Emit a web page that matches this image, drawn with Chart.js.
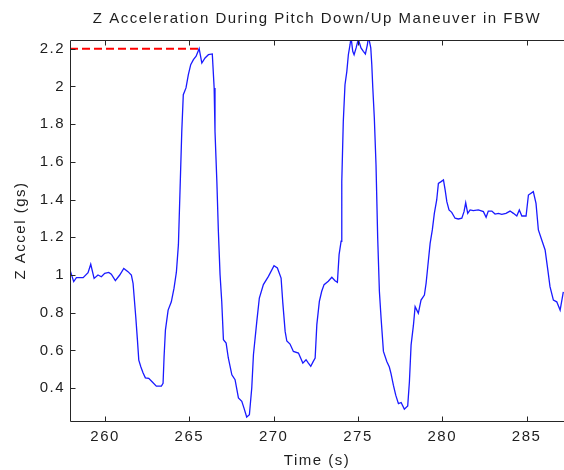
<!DOCTYPE html>
<html>
<head>
<meta charset="utf-8">
<script src="https://cdn.jsdelivr.net/npm/chart.js@4.4.1/dist/chart.umd.min.js"></script>
<style>
  html, body { margin: 0; padding: 0; background: #fff; }
  canvas { display: block; }
</style>
</head>
<body>
<canvas id="chart" width="564" height="470"></canvas>
<script>
// flight log: vertical acceleration vs time
const timeS = [
  257.92, 258.14, 258.30, 258.70, 258.99, 259.15, 259.35, 259.58, 259.78, 259.98,
  260.22, 260.37, 260.61, 260.87, 261.11, 261.36, 261.56, 261.66, 261.82, 261.92,
  262.00, 262.12, 262.25, 262.39, 262.59, 262.79, 263.04, 263.34, 263.44, 263.50,
  263.58, 263.74, 263.93, 264.09, 264.23, 264.35, 264.45, 264.55, 264.64, 264.80,
  264.94, 265.08, 265.24, 265.40, 265.58, 265.74, 265.93, 266.13, 266.36, 266.47,
  266.52, 266.63, 266.72, 266.82, 266.92, 267.02, 267.18, 267.31, 267.52, 267.71,
  267.91, 268.11, 268.24, 268.40, 268.56, 268.70, 268.80, 269.00, 269.15, 269.39,
  269.69, 270.02, 270.22, 270.44, 270.54, 270.68, 270.78, 270.97, 271.17, 271.47,
  271.73, 271.92, 272.06, 272.20, 272.35, 272.46, 272.56, 272.71, 272.85, 272.99,
  273.24, 273.45, 273.64, 273.78, 273.88, 274.00, 274.04, 274.13, 274.23, 274.34,
  274.43, 274.53, 274.59, 274.69, 274.77, 274.89, 275.02, 275.18, 275.32, 275.44,
  275.56, 275.62, 275.76, 275.82, 275.88, 275.97, 276.07, 276.17, 276.27, 276.37,
  276.51, 276.71, 276.86, 276.96, 277.10, 277.24, 277.40, 277.56, 277.75, 277.95,
  278.05, 278.15, 278.29, 278.39, 278.49, 278.58, 278.74, 278.94, 279.04, 279.14,
  279.28, 279.41, 279.53, 279.67, 279.77, 279.93, 280.07, 280.17, 280.27, 280.40,
  280.56, 280.76, 280.95, 281.16, 281.29, 281.39, 281.51, 281.65, 281.84, 282.14,
  282.44, 282.60, 282.73, 282.94, 283.13, 283.33, 283.53, 283.78, 284.02, 284.22,
  284.42, 284.57, 284.72, 284.97, 285.11, 285.40, 285.56, 285.70, 285.90, 286.10,
  286.26, 286.39, 286.59, 286.79, 286.99, 287.18
];
const zAccel = [
  1.027, 0.965, 0.986, 0.986, 1.012, 1.057, 0.982, 1.000, 0.991, 1.009,
  1.014, 1.004, 0.970, 1.000, 1.035, 1.018, 1.000, 0.956, 0.779, 0.655,
  0.549, 0.514, 0.482, 0.455, 0.452, 0.434, 0.411, 0.411, 0.426, 0.567,
  0.708, 0.814, 0.858, 0.930, 1.015, 1.161, 1.461, 1.762, 1.956, 1.992,
  2.062, 2.115, 2.142, 2.160, 2.200, 2.124, 2.151, 2.168, 2.172, 1.992,
  1.762, 1.497, 1.232, 1.002, 0.860, 0.657, 0.639, 0.560, 0.471, 0.445,
  0.348, 0.330, 0.294, 0.247, 0.259, 0.401, 0.577, 0.754, 0.878, 0.949,
  0.993, 1.049, 1.037, 0.984, 0.855, 0.701, 0.650, 0.634, 0.595, 0.586,
  0.533, 0.551, 0.533, 0.516, 0.542, 0.560, 0.737, 0.860, 0.914, 0.949,
  0.967, 0.988, 0.970, 0.961, 1.108, 1.179, 1.497, 1.815, 2.009, 2.080,
  2.168, 2.221, 2.260, 2.186, 2.168, 2.204, 2.250, 2.204, 2.186, 2.172,
  2.221, 2.265, 2.204, 2.115, 1.992, 1.832, 1.585, 1.196, 0.914, 0.772,
  0.595, 0.542, 0.512, 0.477, 0.416, 0.363, 0.318, 0.324, 0.289, 0.306,
  0.433, 0.628, 0.734, 0.832, 0.814, 0.797, 0.867, 0.894, 0.956, 1.044,
  1.168, 1.239, 1.327, 1.398, 1.486, 1.495, 1.504, 1.451, 1.389, 1.345,
  1.332, 1.301, 1.297, 1.301, 1.336, 1.383, 1.327, 1.345, 1.341, 1.345,
  1.336, 1.306, 1.339, 1.339, 1.323, 1.327, 1.322, 1.327, 1.339, 1.327,
  1.313, 1.345, 1.313, 1.313, 1.424, 1.442, 1.380, 1.239, 1.186, 1.133,
  1.027, 0.938, 0.867, 0.858, 0.814, 0.911
];

// first pull-up peak, marked with a dashed line back to the axis
const peakTime = 265.58;
const peakG = 2.2;

const xRange = [257.92, 287.22];
const yRange = [0.226, 2.246];
const xTickValues = [260, 265, 270, 275, 280, 285];
const yTickValues = [0.4, 0.6, 0.8, 1, 1.2, 1.4, 1.6, 1.8, 2, 2.2];

const TEXT = "#1e1e1e";
const AXIS = "#262626";

Chart.defaults.font.family = '"Liberation Sans", Arial, sans-serif';
Chart.defaults.font.size = 15;
Chart.defaults.color = TEXT;

// matlab-ish spacing between glyphs
const spacing = {
  id: "spacing",
  beforeDraw(chart) {
    chart.ctx.letterSpacing = "1.5px";
  },
};

// axes box (left/top/bottom) with inward ticks
const frame = {
  id: "frame",
  afterDatasetsDraw(chart) {
    const { ctx, chartArea: a, scales: { x, y } } = chart;
    const L = a.left + 0.5, T = a.top + 0.5, B = a.bottom + 0.5;
    ctx.save();
    ctx.strokeStyle = AXIS;
    ctx.lineWidth = 1;
    ctx.beginPath();
    ctx.moveTo(a.right + 2, T);
    ctx.lineTo(L, T);
    ctx.lineTo(L, B);
    ctx.lineTo(a.right + 2, B);
    for (const v of xTickValues) {
      const px = Math.round(x.getPixelForValue(v)) + 0.5;
      ctx.moveTo(px, B); ctx.lineTo(px, B - 5);
      ctx.moveTo(px, T); ctx.lineTo(px, T + 5);
    }
    for (const v of yTickValues) {
      const py = Math.round(y.getPixelForValue(v)) + 0.5;
      ctx.moveTo(L, py); ctx.lineTo(L + 5, py);
    }
    ctx.stroke();
    ctx.restore();
  },
};

const points = timeS.map((t, i) => ({ x: t, y: zAccel[i] }));

new Chart(document.getElementById("chart"), {
  type: "line",
  data: {
    datasets: [
      {
        data: [{ x: xRange[0], y: peakG }, { x: peakTime, y: peakG }],
        borderColor: "#ff0000",
        borderWidth: 2,
        borderDash: [8, 4],
        pointRadius: 0,
      },
      {
        data: points,
        borderColor: "#1a1aff",
        borderWidth: 1.3,
        pointRadius: 0,
        tension: 0,
        clip: 0,
      },
    ],
  },
  options: {
    responsive: false,
    animation: false,
    devicePixelRatio: 1,
    layout: { padding: 0 },
    plugins: {
      legend: { display: false },
      tooltip: { enabled: false },
      title: {
        display: true,
        text: "Z Acceleration During Pitch Down/Up Maneuver in FBW",
        fullSize: false,
        color: TEXT,
        font: { size: 15, weight: "normal", lineHeight: 1.2 },
        padding: { top: 9.5, bottom: 12.5 },
      },
    },
    scales: {
      x: {
        type: "linear",
        min: xRange[0],
        max: xRange[1],
        grid: { display: false, drawTicks: false },
        border: { display: false },
        afterBuildTicks: (s) => { s.ticks = xTickValues.map((v) => ({ value: v })); },
        afterFit: (s) => { s.height = 49; },
        ticks: { padding: 7, maxRotation: 0, callback: (v) => String(v) },
        title: { display: true, text: "Time (s)", padding: { top: 0, bottom: 0 } },
      },
      y: {
        type: "linear",
        min: yRange[0],
        max: yRange[1],
        grid: { display: false, drawTicks: false },
        border: { display: false },
        afterBuildTicks: (s) => { s.ticks = yTickValues.map((v) => ({ value: v })); },
        afterFit: (s) => { s.width = 70; },
        ticks: { padding: 5, callback: (v) => String(+v.toFixed(1)) },
        title: { display: true, text: "Z Accel (gs)", padding: { top: 12, bottom: 0 } },
      },
    },
  },
  plugins: [spacing, frame],
});
</script>
</body>
</html>
